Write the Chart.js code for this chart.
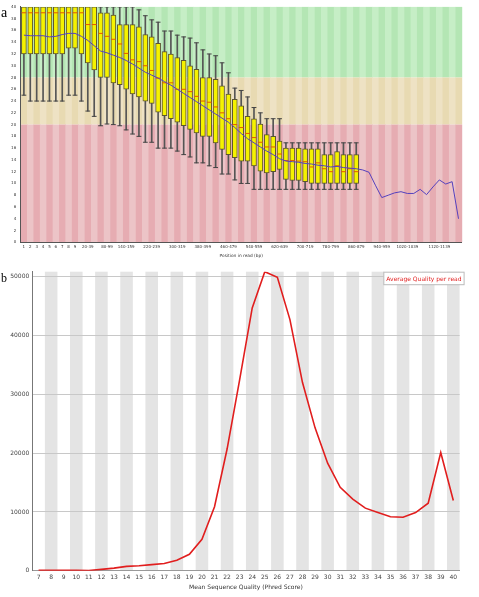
<!DOCTYPE html>
<html>
<head>
<meta charset="utf-8">
<script src="https://cdn.jsdelivr.net/npm/chart.js@4.4.0/dist/chart.umd.min.js"></script>
<style>
    html, body { margin: 0; padding: 0; background: #fff; }
    body { width: 479px; height: 597px; position: relative; overflow: hidden; }
    .panel-tag { position: absolute; font-family: "Liberation Serif", "DejaVu Serif", serif; color: #000; }
    #wrapA { position: absolute; left: 0; top: 0; width: 479px; height: 262px; }
    #wrapB { position: absolute; left: 0; top: 262px; width: 479px; height: 335px; }
</style>
</head>
<body>
<div id="wrapA"><canvas id="qualityChart" width="479" height="262"></canvas></div>
<div id="wrapB"><canvas id="perReadChart" width="479" height="335"></canvas></div>
<div class="panel-tag" style="left:1px; top:5.6px; font-size:14px; line-height:14px;">a</div>
<div class="panel-tag" style="left:1px; top:272px; font-size:12px; line-height:12px;">b</div>
<script>
// Panel a: per base quality (position groups in read)
const positions = [
    '1', '2', '3', '4', '5', '6', '7', '8', '9', '10-19',
    '20-39', '40-59', '60-79', '80-99', '100-119', '120-139', '140-159', '160-179', '180-199', '200-219',
    '220-239', '240-259', '260-279', '280-299', '300-319', '320-339', '340-359', '360-379', '380-399', '400-419',
    '420-439', '440-459', '460-479', '480-499', '500-519', '520-539', '540-559', '560-579', '580-599', '600-619',
    '620-639', '640-659', '660-679', '680-699', '700-719', '720-739', '740-759', '760-779', '780-799', '800-819',
    '820-839', '840-859', '860-879', '880-899', '900-919', '920-939', '940-959', '960-979', '980-999', '1000-1019',
    '1020-1039', '1040-1059', '1060-1079', '1080-1099', '1100-1119', '1120-1139', '1140-1159', '1160-1179', '1180-1199'
];
const shownTicks = ['1', '2', '3', '4', '5', '6', '7', '8', '9', '20-39', '80-99', '140-159', '220-239', '300-319',
    '380-399', '460-479', '540-559', '620-639', '700-719', '780-799', '860-879', '940-959', '1020-1039', '1120-1139'];

// box plot values (only the first 53 groups have boxes)
const lowWhisker = [25, 24, 24, 24, 24, 24, 24, 25, 25, 24,
    22.3, 21.4, 19.8, 20.1, 20, 19.8, 19.1, 18.4, 18, 17,
    17, 16, 16, 16, 15.5, 14.9, 14.5, 13.5, 13.5, 13,
    12.7, 11.6, 11.6, 10.6, 10, 10, 9, 9, 9, 9,
    9, 9, 9, 9, 9, 9, 9, 9, 9, 9, 9, 9, 9];
const lowerQuartile = [32, 32, 32, 32, 32, 32, 32, 33, 33, 32,
    30.5, 29.3, 28, 28, 27.1, 26.8, 26, 25.2, 24.7, 24,
    23.6, 22.1, 21.5, 21, 20.4, 19.8, 19.2, 18.6, 18, 18,
    16.9, 15.8, 14.9, 14.4, 13.8, 13.8, 13, 12.1, 11.8, 12,
    12.4, 10.7, 10.5, 10.5, 10.3, 10, 10, 10, 10, 10, 10, 10, 10];
const medianQuality = [39, 39, 39, 39, 39, 39, 39, 39, 39, 39,
    37, 37, 35.5, 35, 34.5, 33.7, 32.1, 31, 30.7, 30,
    29.2, 27.9, 27.1, 27.1, 26, 26, 25.6, 24.8, 24, 23.8,
    23, 22, 21, 20, 19.5, 18.5, 17.8, 17, 16.2, 16.2,
    15, 13.9, 13.9, 13.8, 13.7, 12.8, 13.5, 12.5, 12, 13, 12, 12.5, 12];
const upperQuartile = [40, 40, 40, 40, 40, 40, 40, 40, 40, 40,
    40, 40, 39, 39, 38.6, 37, 37, 37, 36.6, 35.3,
    34.9, 33.8, 32.4, 32, 31.4, 30.9, 30, 29.4, 28, 28,
    27.7, 26.6, 25.2, 24.3, 23.2, 21.4, 21, 20.1, 18.3, 18,
    17.2, 16, 16, 16, 15.9, 15.9, 15.9, 14.9, 14.9, 15.4, 14.9, 14.9, 14.9];
const highWhisker = [40, 40, 40, 40, 40, 40, 40, 40, 40, 40,
    40, 40, 40, 40, 40, 40, 40, 40, 39.5, 38.5,
    37.8, 37.4, 35.9, 35.9, 35.2, 34.9, 34.7, 33.9, 32.7, 32,
    31.7, 30.5, 28.8, 26.2, 25.8, 24.7, 22.9, 22, 21, 21,
    21, 16.9, 16.9, 16.9, 16.9, 16.9, 16.9, 16.9, 16.9, 16.9, 16.9, 16.9, 16.9];
const meanQuality = [35.2, 35.1, 35.1, 35.1, 34.9, 35.0, 35.3, 35.5, 35.5, 35.0,
    34.3, 33.4, 32.5, 32.2, 31.8, 31.4, 30.9, 30.3, 29.6, 28.9,
    28.4, 27.9, 27.3, 26.7, 26.0, 25.3, 24.6, 23.9, 23.2, 22.5,
    21.8, 21.1, 20.4, 19.5, 18.5, 17.6, 16.9, 16.2, 15.5, 14.9,
    14.2, 13.8, 13.7, 13.6, 13.4, 13.3, 13.1, 13.0, 12.8, 12.9,
    12.7, 12.6, 12.5, 12.3, 11.9, 9.7, 7.6, 8.0, 8.4, 8.6,
    8.3, 8.3, 9.0, 8.1, 9.4, 10.6, 9.9, 10.3, 4.0];

// quality zones behind the boxes
const qualityZones = [
    { from: 28, to: 40, colors: ['rgb(180,230,180)', 'rgb(198,238,198)'] },
    { from: 20, to: 28, colors: ['rgb(232,218,178)', 'rgb(238,226,196)'] },
    { from: 0, to: 20, colors: ['rgb(230,172,178)', 'rgb(236,196,199)'] }
];

// Panel b: per sequence quality
const qualityScores = ['7', '8', '9', '10', '11', '12', '13', '14', '15', '16', '17', '18', '19', '20', '21', '22', '23',
    '24', '25', '26', '27', '28', '29', '30', '31', '32', '33', '34', '35', '36', '37', '38', '39', '40'];
const readCounts = [80, 90, 70, 90, 60, 250, 450, 750, 850, 1050, 1250, 1800, 2800, 5350, 10900, 20700, 32500,
    44700, 50850, 49900, 42700, 32000, 24300, 18300, 14200, 12200, 10650, 9900, 9200, 9100, 9900, 11500, 20100, 11950];
const readCountTicks = [0, 10000, 20000, 30000, 40000, 50000];

function halfStep(xScale) {
    return (xScale.getPixelForValue(1) - xScale.getPixelForValue(0)) / 2;
}

// coloured, striped background for panel a
const zonePlugin = {
    id: 'zones',
    beforeDraw(chart) {
        const { ctx, scales } = chart;
        const x = scales.x, y = scales.y;
        const hw = halfStep(x);
        ctx.save();
        qualityZones.forEach(zone => {
            const top = y.getPixelForValue(zone.to);
            const bottom = y.getPixelForValue(zone.from);
            positions.forEach((p, i) => {
                const cx = x.getPixelForValue(i);
                ctx.fillStyle = zone.colors[i % 2];
                ctx.fillRect(cx - hw, top, hw * 2 + 0.5, bottom - top);
            });
        });
        ctx.restore();
    }
};

// grey stripes for panel b
const stripePlugin = {
    id: 'stripes',
    beforeDraw(chart) {
        const { ctx, chartArea, scales } = chart;
        const x = scales.x;
        const hw = halfStep(x);
        ctx.save();
        ctx.fillStyle = 'rgb(228,228,228)';
        qualityScores.forEach((q, i) => {
            if (i % 2 === 1) {
                const cx = x.getPixelForValue(i);
                ctx.fillRect(cx - hw, chartArea.top, hw * 2, chartArea.bottom - chartArea.top);
            }
        });
        ctx.restore();
    }
};

// small boxed legend in the top right corner of panel b
const boxLegendPlugin = {
    id: 'boxLegend',
    afterDraw(chart) {
        const { ctx, chartArea } = chart;
        const text = chart.data.datasets[0].label;
        ctx.save();
        ctx.font = '6px "DejaVu Sans"';
        const w = ctx.measureText(text).width + 5;
        const h = 12.5;
        const left = chartArea.right + 4.5 - w;
        const top = chartArea.top + 0.5;
        ctx.fillStyle = '#fff';
        ctx.fillRect(left, top, w, h);
        ctx.strokeStyle = '#bbb';
        ctx.lineWidth = 1;
        ctx.strokeRect(left, top, w, h);
        ctx.fillStyle = 'rgb(225,30,30)';
        ctx.textBaseline = 'middle';
        ctx.fillText(text, left + 2.5, top + h / 2 + 0.5);
        ctx.restore();
    }
};

document.addEventListener('DOMContentLoaded', function() {
    renderQualityChart();
    renderPerReadChart();
});

function renderQualityChart() {
    const ctx = document.getElementById('qualityChart').getContext('2d');
    new Chart(ctx, {
        type: 'bar',
        data: {
            labels: positions,
            datasets: [
                {
                    type: 'line',
                    label: 'Mean',
                    data: meanQuality,
                    borderColor: 'rgb(85,65,190)',
                    borderWidth: 1,
                    pointRadius: 0,
                    tension: 0,
                    order: 1
                },
                {
                    type: 'line',
                    label: 'Median',
                    data: medianQuality,
                    showLine: false,
                    pointStyle: 'line',
                    pointRadius: 2.4,
                    pointBorderColor: 'rgb(225,90,0)',
                    pointBorderWidth: 1,
                    order: 2
                },
                {
                    label: 'Inter-quartile range',
                    data: lowerQuartile.map((v, i) => [v, upperQuartile[i]]),
                    backgroundColor: 'rgb(245,242,0)',
                    borderColor: '#5c5530',
                    borderWidth: 1,
                    borderSkipped: false,
                    barThickness: 5,
                    grouped: false,
                    order: 3
                },
                {
                    type: 'line',
                    label: 'Lower whisker',
                    data: lowWhisker,
                    showLine: false,
                    pointStyle: 'line',
                    pointRadius: 2.4,
                    pointBorderColor: '#444',
                    pointBorderWidth: 1,
                    order: 4
                },
                {
                    type: 'line',
                    label: 'Upper whisker',
                    data: highWhisker,
                    showLine: false,
                    pointStyle: 'line',
                    pointRadius: 2.4,
                    pointBorderColor: '#444',
                    pointBorderWidth: 1,
                    order: 4
                },
                {
                    label: 'Whisker',
                    data: lowWhisker.map((v, i) => [v, highWhisker[i]]),
                    backgroundColor: '#555',
                    barThickness: 1,
                    grouped: false,
                    order: 5
                }
            ]
        },
        options: {
            responsive: false,
            animation: false,
            devicePixelRatio: 1,
            layout: { padding: { top: 4, right: 17.3, left: 0, bottom: 0 } },
            plugins: { legend: { display: false }, tooltip: { enabled: false } },
            scales: {
                x: {
                    offset: true,
                    grid: { display: false, drawTicks: false },
                    border: { color: '#555' },
                    ticks: {
                        autoSkip: false,
                        maxRotation: 0,
                        minRotation: 0,
                        padding: 2.5,
                        color: '#333',
                        font: { size: 4, family: 'DejaVu Sans' },
                        callback: function(value, index) {
                            const label = positions[index];
                            return shownTicks.includes(label) ? label : '';
                        }
                    },
                    title: {
                        display: true,
                        text: 'Position in read (bp)',
                        color: '#333',
                        font: { size: 4.3, family: 'DejaVu Sans' },
                        padding: { top: 1, bottom: 3.5 }
                    },
                    afterFit: function(scale) { scale.height = 19.7; }
                },
                y: {
                    min: 0,
                    max: 40,
                    grid: { display: false, drawTicks: false },
                    border: { color: '#555' },
                    ticks: {
                        stepSize: 2,
                        padding: 4.5,
                        color: '#333',
                        font: { size: 4, family: 'DejaVu Sans' }
                    },
                    afterFit: function(scale) { scale.width = 20.7; }
                }
            }
        },
        plugins: [zonePlugin]
    });
}

function renderPerReadChart() {
    const ctx = document.getElementById('perReadChart').getContext('2d');
    new Chart(ctx, {
        type: 'line',
        data: {
            labels: qualityScores,
            datasets: [{
                label: 'Average Quality per read',
                data: readCounts,
                borderColor: 'rgb(225,30,30)',
                borderWidth: 1.6,
                pointRadius: 0,
                tension: 0,
                fill: false
            }]
        },
        options: {
            responsive: false,
            animation: false,
            devicePixelRatio: 1,
            layout: { padding: { top: 9.7, right: 19.4, left: 0, bottom: 0 } },
            plugins: { legend: { display: false }, tooltip: { enabled: false } },
            scales: {
                x: {
                    offset: true,
                    grid: { display: false, drawTicks: false },
                    border: { color: '#999' },
                    ticks: {
                        autoSkip: false,
                        maxRotation: 0,
                        padding: 3,
                        color: '#444',
                        font: { size: 6, family: 'DejaVu Sans' }
                    },
                    title: {
                        display: true,
                        text: 'Mean Sequence Quality (Phred Score)',
                        color: '#333',
                        font: { size: 6, family: 'DejaVu Sans' },
                        padding: { top: 1, bottom: 6 }
                    },
                    afterFit: function(scale) { scale.height = 26.2; }
                },
                y: {
                    min: 0,
                    max: Math.max(...readCounts),
                    grid: { color: 'rgb(200,200,200)', drawTicks: false },
                    border: { color: '#777' },
                    afterBuildTicks: function(scale) {
                        scale.ticks = readCountTicks.map(v => ({ value: v }));
                    },
                    ticks: {
                        padding: 3,
                        color: '#444',
                        font: { size: 6, family: 'DejaVu Sans' },
                        callback: function(value) { return String(value); }
                    },
                    afterFit: function(scale) { scale.width = 32.3; }
                }
            }
        },
        plugins: [stripePlugin, boxLegendPlugin]
    });
}
</script>
</body>
</html>
